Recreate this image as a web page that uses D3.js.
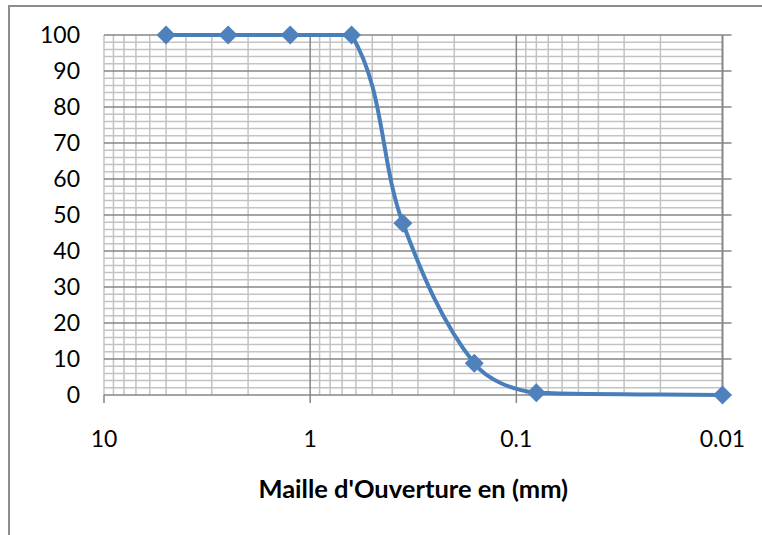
<!DOCTYPE html>
<html>
<head>
<meta charset="utf-8">
<script src="https://cdn.jsdelivr.net/npm/d3@7"></script>
<style>
  body { margin: 0; background: #fff; }
  text { font-family: Lato, "Open Sans", sans-serif; fill: #000; }
</style>
</head>
<body>
<div id="plot"></div>
<script>
// sieve opening (mm) and cumulative % passing
const sizes = [5, 2.5, 1.25, 0.63, 0.355, 0.16, 0.08, 0.01];
const passing = [100, 100, 100, 100, 47.7, 8.8, 0.6, 0];
const xTicks = [10, 1, 0.1, 0.01];
const xTickLabels = ["10", "1", "0.1", "0.01"];
const yTicks = [0, 10, 20, 30, 40, 50, 60, 70, 80, 90, 100];

const width = 762, height = 535;

const svg = d3.select("#plot").append("svg")
    .attr("width", width)
    .attr("height", height);

// chart frame (runs off the right / bottom edge like the original crop)
svg.append("rect")
    .attr("x", 9).attr("y", 6)
    .attr("width", 800).attr("height", 600)
    .attr("fill", "none")
    .attr("stroke", "#8c8c8c")
    .attr("stroke-width", 2);

const x = d3.scaleLog().domain([10, 0.01]).range([104, 722.5]);
const y = d3.scaleLinear().domain([0, 100]).range([395, 35]);

const minorColor = "#c3c3c3", majorColor = "#868686";

// minor horizontal gridlines every 2
const yMinor = d3.range(0, 101, 2).filter(v => v % 10 !== 0);
svg.append("g").selectAll("line")
    .data(yMinor).enter().append("line")
    .attr("x1", x(10)).attr("x2", x(0.01))
    .attr("y1", d => y(d)).attr("y2", d => y(d))
    .attr("stroke", minorColor).attr("stroke-width", 1.5);

// minor vertical gridlines (2..9 in each decade)
const xMinor = [];
[1, 0.1, 0.01].forEach(b => { for (let k = 2; k <= 9; k++) xMinor.push(b * k); });
svg.append("g").selectAll("line")
    .data(xMinor.concat([10])).enter().append("line")
    .attr("x1", d => x(d)).attr("x2", d => x(d))
    .attr("y1", y(0)).attr("y2", y(100))
    .attr("stroke", minorColor).attr("stroke-width", 1.5);

// major horizontal gridlines, with tick marks sticking out to the right
svg.append("g").selectAll("line")
    .data(yTicks).enter().append("line")
    .attr("x1", x(10)).attr("x2", x(0.01) + 9)
    .attr("y1", d => y(d)).attr("y2", d => y(d))
    .attr("stroke", majorColor).attr("stroke-width", 1.5);

// major vertical gridlines
svg.append("g").selectAll("line")
    .data([1, 0.1]).enter().append("line")
    .attr("x1", d => x(d)).attr("x2", d => x(d))
    .attr("y1", y(0)).attr("y2", y(100))
    .attr("stroke", majorColor).attr("stroke-width", 1.5);

// value axis line on the right
svg.append("line")
    .attr("x1", x(0.01)).attr("x2", x(0.01))
    .attr("y1", y(0)).attr("y2", y(100))
    .attr("stroke", majorColor).attr("stroke-width", 2);

// x tick marks below the axis
svg.append("g").selectAll("line")
    .data(xTicks).enter().append("line")
    .attr("x1", d => x(d)).attr("x2", d => x(d))
    .attr("y1", y(0)).attr("y2", y(0) + 8)
    .attr("stroke", majorColor).attr("stroke-width", 1.5);

// y tick labels
svg.append("g").selectAll("text")
    .data(yTicks).enter().append("text")
    .attr("x", 80)
    .attr("y", d => y(d))
    .attr("dy", "0.36em")
    .attr("text-anchor", "end")
    .style("font-size", "23px")
    .text(d => d);

// x tick labels
svg.append("g").selectAll("text")
    .data(xTicks).enter().append("text")
    .attr("x", d => x(d))
    .attr("y", 447)
    .attr("text-anchor", "middle")
    .style("font-size", "23px")
    .text((d, i) => xTickLabels[i]);

// axis title
svg.append("text")
    .attr("x", (x(10) + x(0.01)) / 2)
    .attr("y", 498)
    .attr("text-anchor", "middle")
    .style("font-size", "25.5px")
    .style("font-weight", "bold")
    .text("Maille d'Ouverture en (mm)");

// smoothed line like the spreadsheet one: handle direction from the
// neighbours, handle length a third of the segment, and clamped so a
// segment never leaves the band of its two end points
function clampedSmooth(context) {
  let pts;
  const unit = (a, b) => {
    const dx = b[0] - a[0], dy = b[1] - a[1], l = Math.hypot(dx, dy) || 1;
    return [dx / l, dy / l];
  };
  return {
    lineStart() { pts = []; },
    point(px, py) { pts.push([+px, +py]); },
    lineEnd() {
      const n = pts.length;
      if (!n) return;
      context.moveTo(pts[0][0], pts[0][1]);
      for (let i = 0; i < n - 1; i++) {
        const p0 = pts[Math.max(i - 1, 0)], p1 = pts[i],
              p2 = pts[i + 1], p3 = pts[Math.min(i + 2, n - 1)];
        const len = Math.hypot(p2[0] - p1[0], p2[1] - p1[1]) / 3;
        const t1 = unit(p0, p2), t2 = unit(p1, p3);
        const lo = Math.min(p1[1], p2[1]), hi = Math.max(p1[1], p2[1]);
        const cl = v => Math.max(lo, Math.min(hi, v));
        context.bezierCurveTo(
          p1[0] + t1[0] * len, cl(p1[1] + t1[1] * len),
          p2[0] - t2[0] * len, cl(p2[1] - t2[1] * len),
          p2[0], p2[1]);
      }
    },
    areaStart() {}, areaEnd() {}
  };
}

const points = sizes.map((s, i) => [s, passing[i]]);

const line = d3.line()
    .x(d => x(d[0]))
    .y(d => y(d[1]))
    .curve(clampedSmooth);

svg.append("path")
    .datum(points)
    .attr("d", line)
    .attr("fill", "none")
    .attr("stroke", "#4a7ebb")
    .attr("stroke-width", 4);

svg.append("g").selectAll("path")
    .data(points).enter().append("path")
    .attr("d", d3.symbol(d3.symbolSquare, 180))
    .attr("transform", d => `translate(${x(d[0])},${y(d[1])}) rotate(45)`)
    .attr("fill", "#4f81bd");
</script>
</body>
</html>
